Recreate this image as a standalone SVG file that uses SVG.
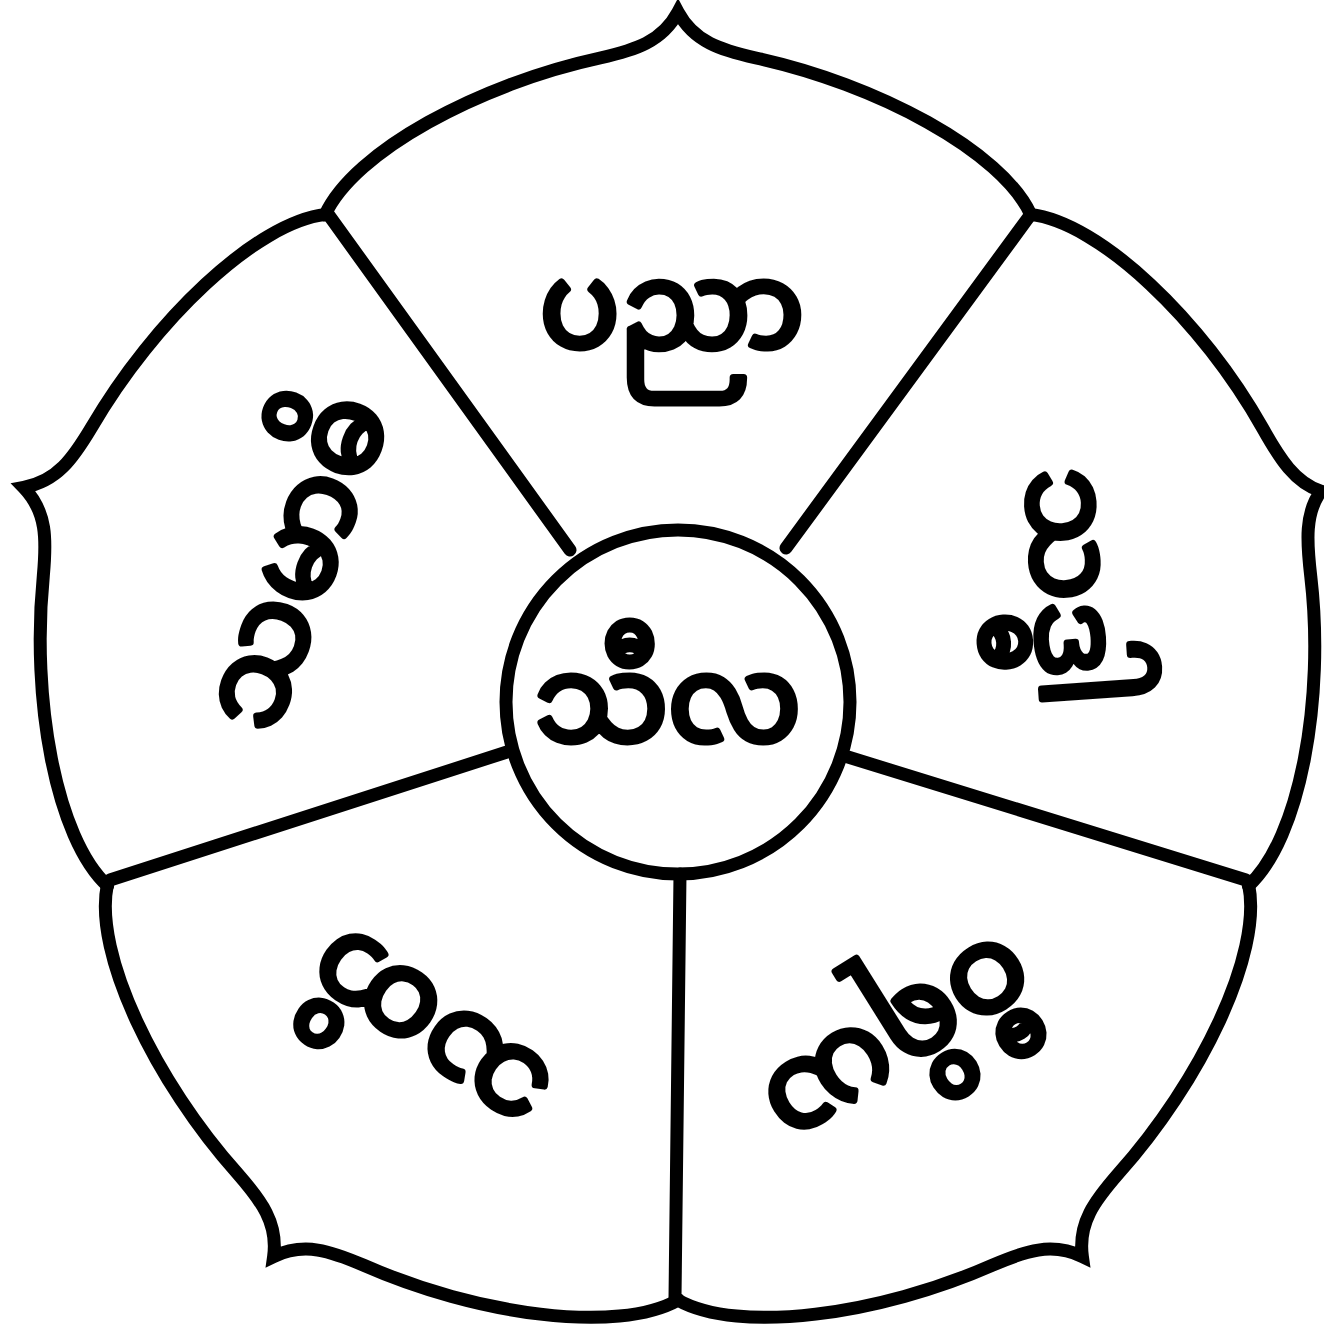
<svg xmlns="http://www.w3.org/2000/svg" xmlns:xlink="http://www.w3.org/1999/xlink" width="1324" height="1334" viewBox="0 0 1324 1334">
<style>
.ln{fill:none;stroke:#000;stroke-width:13;stroke-linecap:round;stroke-linejoin:miter;stroke-miterlimit:6}
.lb{font-family:'Noto Sans Myanmar','Noto Sans','DejaVu Sans',sans-serif;font-size:118px;fill:#000;stroke:#000;stroke-width:7;stroke-linejoin:round;text-anchor:middle;dominant-baseline:central}
</style>
<defs>
<path id="petal" d="M 325,215 C 354,151 480,84 600,58 C 635,50 662,42 678,12 C 694,42 721,50 756,58 C 876,84 1002,151 1031,215"/>
<path id="petal-short" d="M 325,215 C 354,151 480,84 600,60 C 635,53 662,46 678,24 C 694,46 721,53 756,60 C 876,84 1002,151 1031,215"/>
</defs>
<rect width="1324" height="1334" fill="#fff"/>
<g id="connectors" class="ln">
<line x1="570" y1="550" x2="328" y2="214"/>
<line x1="786" y1="548" x2="1031" y2="214"/>
<line x1="848" y1="757" x2="1246" y2="880"/>
<line x1="507" y1="752" x2="110" y2="880"/>
<line x1="680" y1="874" x2="675" y2="1298"/>
</g>
<g id="petal-panna">
<use xlink:href="#petal" href="#petal" class="ln"/>
<text class="lb" x="672" y="319">ပညာ</text>
</g>
<g id="petal-saddha">
<use xlink:href="#petal-short" href="#petal-short" class="ln" transform="rotate(72 678 700)"/>
<text class="lb" x="1062" y="588" transform="rotate(86 1062 588)">သဒ္ဓါ</text>
</g>
<g id="petal-viriya">
<use xlink:href="#petal" href="#petal" class="ln" transform="rotate(144 678 700)"/>
<text class="lb" x="894" y="1032" transform="rotate(148 894 1032)">ဝီရိယ</text>
</g>
<g id="petal-sati">
<use xlink:href="#petal" href="#petal" class="ln" transform="rotate(216 678 700)"/>
<text class="lb" x="435" y="1021" transform="rotate(-145 435 1021)">သတိ</text>
</g>
<g id="petal-samadhi">
<use xlink:href="#petal" href="#petal" class="ln" transform="rotate(288 678 700)"/>
<text class="lb" x="306" y="565" transform="rotate(-70 306 565)">သမာဓိ</text>
</g>
<g id="center-sila">
<circle cx="678" cy="702" r="172" fill="#fff" class="ln"/>
<text class="lb" x="668" y="713">သီလ</text>
</g>
</svg>
